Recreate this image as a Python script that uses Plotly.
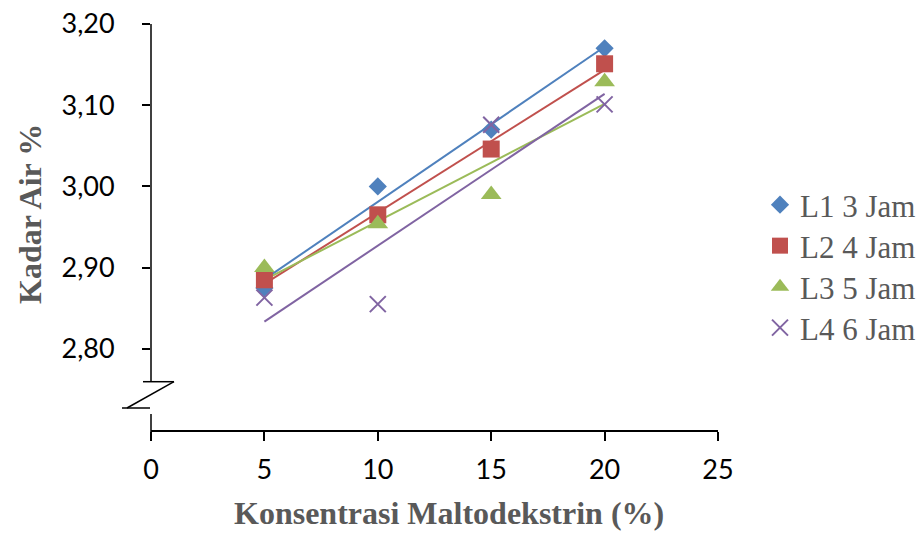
import numpy as np
import plotly.graph_objects as go

konsentrasi = [5, 10, 15, 20]
series_names = ["L1 3 Jam", "L2 4 Jam", "L3 5 Jam", "L4 6 Jam"]
L1 = [2.875, 3.000, 3.070, 3.170]
L2 = [2.885, 2.965, 3.046, 3.151]
L3 = [2.900, 2.954, 2.990, 3.129]
L4 = [2.863, 2.855, 3.076, 3.101]
y_tickvals = [2.80, 2.90, 3.00, 3.10, 3.20]
y_ticktext = ["2,80", "2,90", "3,00", "3,10", "3,20"]
x_tickvals = [0, 5, 10, 15, 20, 25]

colors = ["#4F81BD", "#C0504D", "#9BBB59", "#8064A2"]
symbols = ["diamond", "square", "triangle-up", "x-thin"]
sizes = [14, 17, 18, 16]

L, R, T, B = 151, 205, 24, 104
W, H = 923, 534
pw, ph = W - L - R, H - T - B

def px(x):
    return (x - L) / pw

def py(y):
    return (H - B - y) / ph

fig = go.Figure()
all_series = [L1, L2, L3, L4]
# trendlines (linear regression of each series)
for vals, c in zip(all_series, colors):
    k, b = np.polyfit(konsentrasi, vals, 1)
    xs = [min(konsentrasi), max(konsentrasi)]
    fig.add_trace(go.Scatter(x=xs, y=[k * v + b for v in xs], mode="lines",
                             line=dict(color=c, width=2), showlegend=False,
                             hoverinfo="skip"))
legend_ids = ["legend", "legend2", "legend3", "legend4"]
for vals, name, c, s, sz, lid in zip(all_series, series_names, colors, symbols, sizes, legend_ids):
    marker = dict(symbol=s, size=sz, color=c)
    if s == "x-thin":
        marker["line"] = dict(color=c, width=2)
    fig.add_trace(go.Scatter(x=konsentrasi, y=vals, mode="markers", name=name,
                             marker=marker, legend=lid))

line = dict(color="black", width=1.5)
shapes = [
    dict(type="line", xref="paper", yref="paper", x0=0, x1=0, y0=1, y1=py(381.7), line=line),
    dict(type="line", xref="paper", yref="paper", x0=px(143), x1=px(174), y0=py(381.7), y1=py(381.7), line=line),
    dict(type="line", xref="paper", yref="paper", x0=px(174), x1=px(127), y0=py(381.7), y1=py(408), line=line),
    dict(type="line", xref="paper", yref="paper", x0=px(122), x1=px(150), y0=py(408), y1=py(408), line=line),
    dict(type="line", xref="paper", yref="paper", x0=0, x1=0, y0=py(414), y1=py(440), line=line),
]

title_font = dict(family="Liberation Serif", size=32, color="#595959")
annotations = [
    dict(text="<b>Konsentrasi Maltodekstrin (%)</b>", xref="paper", yref="paper",
         x=px(448.5), y=py(513), xanchor="center", yanchor="middle", showarrow=False, font=title_font),
    dict(text="<b>Kadar Air %</b>", xref="paper", yref="paper", textangle=-90,
         x=px(30), y=py(214), xanchor="center", yanchor="middle", showarrow=False, font=title_font),
]

legend_font = dict(family="Liberation Serif", size=31, color="#595959")
legend_rows = [205, 246, 287, 328]
legends = {}
for lid, row in zip(legend_ids, legend_rows):
    legends[lid] = dict(xref="container", yref="container", x=760 / W, y=1 - row / H,
                        xanchor="left", yanchor="middle",
                        font=legend_font, bgcolor="rgba(0,0,0,0)")

tick_font = dict(family="Lato", size=27, color="black")
fig.update_layout(
    width=W, height=H,
    margin=dict(l=L, r=R, t=T, b=B, pad=0, autoexpand=False),
    plot_bgcolor="white", paper_bgcolor="white",
    showlegend=True,
    xaxis=dict(range=[0, 25], tickvals=x_tickvals, showline=True, linecolor="black", linewidth=1.5,
               ticks="outside", ticklen=9, tickwidth=1.5, tickcolor="black", showgrid=False,
               zeroline=False, tickfont=tick_font, ticklabelstandoff=6),
    yaxis=dict(range=[2.70, 3.20], tickvals=y_tickvals, ticktext=y_ticktext, showline=False,
               ticks="outside", ticklen=8, tickwidth=1.5, tickcolor="black", showgrid=False,
               zeroline=False, tickfont=tick_font, ticklabelstandoff=22),
    shapes=shapes, annotations=annotations,
    **legends,
)
fig.write_html("out.html")
